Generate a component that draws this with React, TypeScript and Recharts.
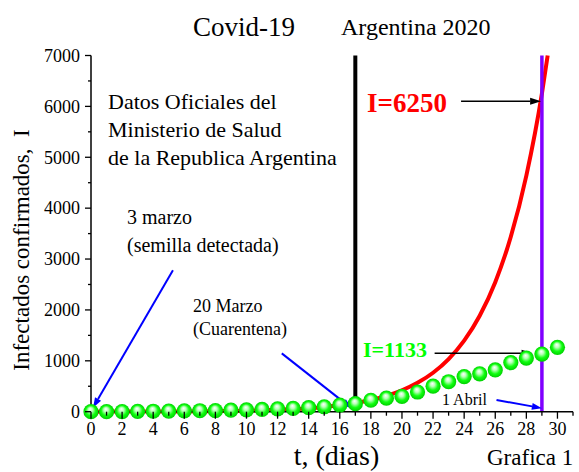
import React from 'react';
import { ComposedChart, Line, XAxis, YAxis, ReferenceLine } from 'recharts';

// Official confirmed cases, day 0 = 3 March 2020
const days = [0, 1, 2, 3, 4, 5, 6, 7, 8, 9, 10, 11, 12, 13, 14, 15, 16, 17, 18, 19, 20, 21, 22, 23, 24, 25, 26, 27, 28, 29, 30];
const confirmed = [1, 1, 2, 8, 9, 12, 17, 19, 21, 31, 34, 45, 56, 65, 79, 97, 128, 158, 225, 266, 301, 387, 502, 589, 690, 745, 820, 966, 1054, 1133, 1265];

// Red model curve
const fitDays = [0, 1, 2, 3, 4, 5, 6, 7, 8, 9, 10, 11, 12, 13, 14, 15, 16, 17, 18, 19, 20, 21, 22, 23, 24, 25, 26, 27, 28, 29, 29.37];
const fitValues = [1, 1.4, 1.9, 2.5, 3.4, 4.6, 6.2, 8.4, 11.4, 15.4, 21, 28, 38, 51, 69, 94, 127, 171, 231, 312, 421, 568, 766, 1035, 1397, 1886, 2546, 3437, 4640, 6250, 7000];

const xTicks = [0, 1, 2, 3, 4, 5, 6, 7, 8, 9, 10, 11, 12, 13, 14, 15, 16, 17, 18, 19, 20, 21, 22, 23, 24, 25, 26, 27, 28, 29, 30, 31];
const yTicks = [0, 500, 1000, 1500, 2000, 2500, 3000, 3500, 4000, 4500, 5000, 5500, 6000, 6500, 7000];

const quarantineDay = 17;
const aprilFirstDay = 29;

const blueArrows = [
  { from: [5.27, 2780], to: [0.13, 80] },
  { from: [12.27, 1146], to: [16.76, 67] },
  { from: [26.08, 230], to: [29.0, 70] },
];
const blackArrows = [
  { from: [23.8, 6100], to: [28.95, 6100] },
  { from: [22.1, 1150], to: [28.4, 1150] },
];

const confirmedRows = days.map((t, i) => ({ t, I: confirmed[i] }));
const fitRows = fitDays.map((t, i) => ({ t, fit: fitValues[i] }));

const FONT = '"Liberation Serif", "Times New Roman", serif';

const BottomTick = (props: any) => {
  const { x, y, payload } = props;
  const v = payload.value;
  const major = v % 2 === 0;
  return (
    <g>
      <line x1={x} y1={y} x2={x} y2={y + (major ? 7 : 4)} stroke="#000" strokeWidth={1.3} />
      {major && v <= 30 && (
        <text x={x} y={y + 23.5} textAnchor="middle" fontSize={18} fontFamily={FONT} style={{ fontFamily: FONT }} fill="#000">{v}</text>
      )}
    </g>
  );
};
const TopTick = (props: any) => {
  const { x, y, payload } = props;
  const major = payload.value % 2 === 0;
  return <line x1={x} y1={y} x2={x} y2={y + (major ? 5 : 2.5)} stroke="#000" strokeWidth={1.3} />;
};
const LeftTick = (props: any) => {
  const { x, y, payload } = props;
  const v = payload.value;
  const major = v % 1000 === 0;
  return (
    <g>
      <line x1={x} y1={y} x2={x - (major ? 6 : 3)} y2={y} stroke="#000" strokeWidth={1.3} />
      {major && (
        <text x={x - 11} y={y} dy="0.35em" textAnchor="end" fontSize={18} fontFamily={FONT} style={{ fontFamily: FONT }} fill="#000">{v}</text>
      )}
    </g>
  );
};
const RightTick = (props: any) => {
  const { x, y, payload } = props;
  const major = payload.value % 1000 === 0;
  return <line x1={x} y1={y} x2={x - (major ? 6 : 3)} y2={y} stroke="#000" strokeWidth={1.3} />;
};

const Ball = (props: any) => {
  const { cx, cy, index } = props;
  if (cx == null || cy == null) return <g key={`b${index}`} />;
  return <circle key={`b${index}`} cx={cx} cy={cy} r={7.6} fill="url(#ballGrad)" stroke="none" />;
};

const makeArrow = (color: string, width: number, headLen: number, headW: number) => (props: any) => {
  const { x1, y1, x2, y2 } = props;
  const ang = Math.atan2(y2 - y1, x2 - x1);
  const bx = x2 - headLen * Math.cos(ang);
  const by = y2 - headLen * Math.sin(ang);
  const px = -Math.sin(ang) * headW;
  const py = Math.cos(ang) * headW;
  return (
    <g>
      <line x1={x1} y1={y1} x2={bx} y2={by} stroke={color} strokeWidth={width} />
      <polygon points={`${x2},${y2} ${bx + px},${by + py} ${bx - px},${by - py}`} fill={color} />
    </g>
  );
};

const blueArrow = makeArrow('#0000ff', 2, 10, 3.5);
const blackArrow = makeArrow('#000000', 1.6, 11, 3.5);

const txt = (x: number, y: number, s: string, size: number, extra: any = {}) => (
  <text x={x} y={y} fontSize={size} fontFamily={FONT} fill="#000" style={{ whiteSpace: 'pre', fontFamily: FONT }} {...extra}>{s}</text>
);

export default function App() {
  return (
    <div style={{ position: 'absolute', left: 0, top: 0, width: 579, height: 472, background: '#fff' }}>
      <ComposedChart width={579} height={472} margin={{ top: 55.5, right: 6, bottom: 30.3, left: 0 }}>
        <defs>
          <radialGradient id="ballGrad" cx="0.5" cy="0.5" r="0.5" fx="0.45" fy="0.32">
            <stop offset="0%" stopColor="#ffffff" />
            <stop offset="30%" stopColor="#b8ffb8" />
            <stop offset="65%" stopColor="#10ff10" />
            <stop offset="100%" stopColor="#00d000" />
          </radialGradient>
        </defs>
        <XAxis
          xAxisId="b" dataKey="t" type="number" domain={[0, 31]} ticks={xTicks} interval={0}
          orientation="bottom" height={30} tickSize={0} tickMargin={0} tickLine={false}
          tick={BottomTick} axisLine={{ stroke: '#000', strokeWidth: 1.5 }} allowDecimals
        />
        <XAxis
          xAxisId="top" dataKey="t" type="number" domain={[0, 31]} ticks={xTicks} interval={0}
          orientation="top" height={0} tickSize={0} tickMargin={0} tickLine={false}
          tick={TopTick} axisLine={{ stroke: '#000', strokeWidth: 1.5 }}
        />
        <YAxis
          yAxisId="l" type="number" domain={[0, 7000]} ticks={yTicks} interval={0}
          orientation="left" width={91} tickSize={0} tickMargin={0} tickLine={false}
          tick={LeftTick} axisLine={{ stroke: '#000', strokeWidth: 1.5 }}
        />
        <YAxis
          yAxisId="r" type="number" domain={[0, 7000]} ticks={yTicks} interval={0}
          orientation="right" width={0} tickSize={0} tickMargin={0} tickLine={false}
          tick={RightTick} axisLine={{ stroke: '#000', strokeWidth: 1.5 }}
        />
        <Line
          xAxisId="b" yAxisId="l" data={fitRows} dataKey="fit" type="monotone"
          stroke="#ff0000" strokeWidth={4} dot={false} activeDot={false} isAnimationActive={false}
        />
        <ReferenceLine xAxisId="b" yAxisId="l" x={quarantineDay} stroke="#000" strokeWidth={4} />
        <Line
          xAxisId="b" yAxisId="l" data={confirmedRows} dataKey="I" stroke="none"
          dot={Ball} activeDot={false} isAnimationActive={false}
        />
        <ReferenceLine xAxisId="b" yAxisId="l" x={aprilFirstDay} stroke="#8000ff" strokeWidth={3.5} />
        {blueArrows.map((a, i) => (
          <ReferenceLine
            key={`ba${i}`} xAxisId="b" yAxisId="l"
            segment={[{ x: a.from[0], y: a.from[1] }, { x: a.to[0], y: a.to[1] }]}
            shape={blueArrow} ifOverflow="visible"
          />
        ))}
        {blackArrows.map((a, i) => (
          <ReferenceLine
            key={`ka${i}`} xAxisId="b" yAxisId="l"
            segment={[{ x: a.from[0], y: a.from[1] }, { x: a.to[0], y: a.to[1] }]}
            shape={blackArrow} ifOverflow="visible"
          />
        ))}
        {txt(193, 36, 'Covid-19', 27)}
        {txt(341, 35, 'Argentina 2020', 24)}
        {txt(21, 250, 'Infectados confirmados,  I', 23, { textAnchor: 'middle', transform: 'rotate(-90 21 250)', dominantBaseline: 'central' })}
        {txt(336.5, 465, 't, (dias)', 28, { textAnchor: 'middle' })}
        {txt(487, 465, 'Grafica 1', 23)}
        {txt(108, 109, 'Datos Oficiales del', 22)}
        {txt(108, 137, 'Ministerio de Salud', 22)}
        {txt(108, 165, 'de la Republica Argentina', 22)}
        {txt(127, 224, '3 marzo', 20)}
        {txt(127, 252, '(semilla detectada)', 20)}
        {txt(193, 312, '20 Marzo', 18)}
        {txt(193, 335, '(Cuarentena)', 18)}
        {txt(367, 112, 'I=6250', 27, { fill: '#ff0000', fontWeight: 'bold' })}
        {txt(363, 357, 'I=1133', 22, { fill: '#00ff00', fontWeight: 'bold' })}
        {txt(442, 405, '1 Abril', 16)}
      </ComposedChart>
    </div>
  );
}
